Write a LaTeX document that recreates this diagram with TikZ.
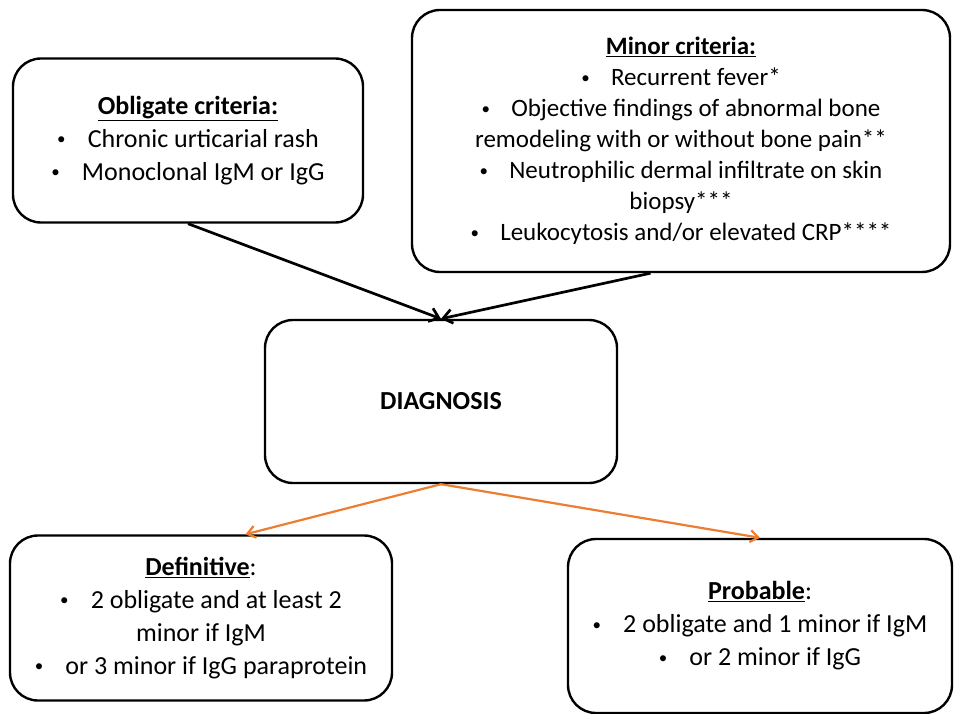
\documentclass[tikz,border=0pt]{standalone}
\usepackage{fontspec}
\setmainfont{Carlito}
\usetikzlibrary{
    arrows.meta,
    positioning
}
\definecolor{officeorange}{RGB}{237,125,49}
\newcommand{\bul}{\raisebox{0.1em}{\fontsize{17}{17}\selectfont\textbullet}\hspace{0.85em}}

\begin{document}
\begin{tikzpicture}[x=1pt,y=-1pt]
    \tikzset{
        critbox/.style={draw, line width=2.4pt, rounded corners=28pt,
            align=center, inner sep=0pt,
            font=\fontsize{26}{33}\selectfont},
        blacklink/.style={-{Straight Barb[length=9pt,width=14pt]}, line width=2.7pt},
        orangelink/.style={-{Straight Barb[length=8pt,width=12pt]}, line width=2.2pt, officeorange}
    }
    \useasboundingbox (0,0) rectangle (955,714);

    % criteria
    \node[critbox, minimum width=350pt, minimum height=164pt] (oblig) at (188,140.5)
        {\underline{\textbf{Obligate criteria:}}\\
         \bul Chronic urticarial rash\\
         \bul Monoclonal IgM or IgG};
    \node[critbox, minimum width=538pt, minimum height=262pt,
          font=\fontsize{25}{31}\selectfont] (minor) at (681,141)
        {\underline{\textbf{Minor criteria:}}\\
         \bul Recurrent fever*\\
         \bul Objective findings of abnormal bone\\
         remodeling with or without bone pain**\\
         \bul Neutrophilic dermal infiltrate on skin\\
         biopsy***\\
         \bul Leukocytosis and/or elevated CRP****};

    \node[critbox, minimum width=352pt, minimum height=163pt,
          font=\fontsize{26}{30}\selectfont\bfseries] (diag) at (441,401.5) {DIAGNOSIS};

    % outcomes
    \node[critbox, minimum width=382pt, minimum height=165pt] (defin) at (201,618)
        {\underline{\textbf{Definitive}}:\\
         \bul 2 obligate and at least 2\\
         minor if IgM\\
         \bul or 3 minor if IgG paraprotein};
    \node[critbox, minimum width=384pt, minimum height=174pt] (prob) at (760,626)
        {\underline{\textbf{Probable}}:\\
         \bul 2 obligate and 1 minor if IgM\\
         \bul or 2 minor if IgG};

    \draw[blacklink] (oblig.south) -- (diag.north);
    \draw[blacklink] (minor.257) -- (diag.north);
    \draw[orangelink] (diag.south) -- (defin.62);
    \draw[orangelink] (diag.south) -- (prob.north);
\end{tikzpicture}
\end{document}
